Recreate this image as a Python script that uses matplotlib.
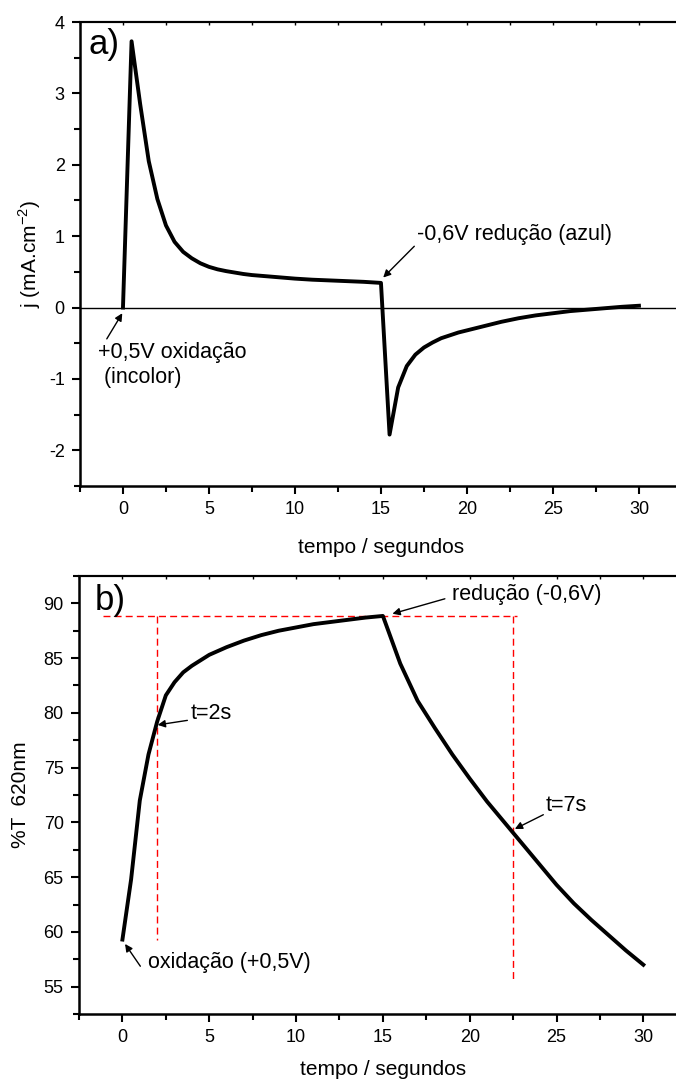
import numpy as np
import matplotlib.pyplot as plt
from matplotlib.ticker import MultipleLocator

plt.rcParams['font.family'] = ['Liberation Sans', 'DejaVu Sans']
plt.rcParams['axes.unicode_minus'] = False

# painel a) - densidade de corrente
t_j = [0, 0.5, 1.0, 1.5, 2.0, 2.5, 3.0, 3.5, 4.0, 4.5, 5.0, 5.5, 6.0, 6.5, 7.0,
       7.5, 8.0, 8.5, 9.0, 9.5, 10, 11, 12, 13, 14, 15,
       15.5, 16, 16.5, 17, 17.5, 18, 18.5, 19, 19.5, 20, 21, 22, 23, 24, 25,
       26, 27, 28, 29, 30]
j = [0, 3.73, 2.85, 2.05, 1.52, 1.15, 0.92, 0.78, 0.69, 0.62, 0.57, 0.535, 0.51, 0.49, 0.47,
     0.455, 0.445, 0.435, 0.425, 0.415, 0.405, 0.39, 0.38, 0.37, 0.36, 0.345,
     -1.78, -1.12, -0.82, -0.66, -0.56, -0.49, -0.43, -0.39, -0.35, -0.32, -0.26, -0.20, -0.15, -0.11, -0.08,
     -0.05, -0.03, -0.01, 0.01, 0.025]

# painel b) - transmitancia 620 nm
t_T = [0, 0.5, 1.0, 1.5, 2.0, 2.5, 3.0, 3.5, 4.0, 4.5, 5.0, 6.0, 7.0, 8.0, 9.0, 10, 11, 12, 13, 14, 15,
       16, 17, 18, 19, 20, 21, 22, 23, 24, 25, 26, 27, 28, 29, 30]
T = [59.3, 64.8, 72.0, 76.2, 79.2, 81.6, 82.8, 83.7, 84.3, 84.8, 85.3, 86.0, 86.6, 87.1, 87.5, 87.8, 88.1, 88.3, 88.5, 88.7, 88.85,
     84.5, 81.1, 78.6, 76.2, 74.0, 71.9, 70.0, 68.1, 66.2, 64.3, 62.6, 61.1, 59.7, 58.3, 57.0]

T_max = 88.85
t_cor = [2.0, 22.5]

fig = plt.figure(figsize=(6.76, 10.79), dpi=100)
ax1 = fig.add_axes([0.1183, 0.5496, 0.8905, 0.4300])
ax2 = fig.add_axes([0.1169, 0.0602, 0.8990, 0.4060])

for ax, lp in ((ax1, 14), (ax2, 10)):
    ax.spines['left'].set_linewidth(1.8)
    ax.spines['bottom'].set_linewidth(1.8)
    ax.spines['top'].set_linewidth(1.5)
    ax.xaxis.set_major_locator(MultipleLocator(5))
    ax.xaxis.set_minor_locator(MultipleLocator(2.5))
    ax.tick_params(which='major', direction='out', length=6, width=1.5, labelsize=13, pad=5)
    ax.tick_params(which='minor', direction='out', length=4, width=1.5)
    ax.set_xlim(-2.5, 32.5)
    ax.set_xlabel('tempo / segundos', fontsize=15, labelpad=lp)
    sec = ax.secondary_xaxis('top')
    sec.xaxis.set_major_locator(MultipleLocator(2.5))
    sec.tick_params(direction='in', length=2, width=1, labeltop=False)
    sec.spines['top'].set_linewidth(1.5)

# ---- a)
ax1.plot(t_j, j, color='black', lw=2.8)
ax1.axhline(0, color='black', lw=1)
ax1.set_ylim(-2.5, 4)
ax1.yaxis.set_major_locator(MultipleLocator(1))
ax1.yaxis.set_minor_locator(MultipleLocator(0.5))
ax1.set_ylabel('j (mA.cm$^{\\mathregular{-2}}$)', fontsize=15)
ax1.text(-2.0, 3.68, 'a)', fontsize=25, va='center')
ax1.annotate('-0,6V redução (azul)', xy=(15.13, 0.42), xytext=(17.1, 1.03),
             fontsize=15.5, va='center',
             arrowprops=dict(arrowstyle='-|>', color='black', lw=1, shrinkA=0, shrinkB=0,
                             mutation_scale=11, relpos=(0, 0.05)))
ax1.annotate('+0,5V oxidação\n (incolor)', xy=(-0.04, -0.08), xytext=(-1.47, -0.8),
             fontsize=15.5, va='center', linespacing=1.25,
             arrowprops=dict(arrowstyle='-|>', color='black', lw=1, shrinkA=0, shrinkB=0,
                             mutation_scale=11, relpos=(0.05, 1.0)))

# ---- b)
ax2.plot([-1.1, 22.7], [T_max, T_max], color='red', lw=1, ls=(0, (5, 3)))
ax2.plot([t_cor[0], t_cor[0]], [T_max, 59.3], color='red', lw=1, ls=(0, (5, 3)))
ax2.plot([t_cor[1], t_cor[1]], [T_max, 55.6], color='red', lw=1, ls=(0, (5, 3)))
ax2.plot(t_T, T, color='black', lw=2.8)
ax2.set_ylim(52.5, 92.5)
ax2.yaxis.set_major_locator(MultipleLocator(5))
ax2.yaxis.set_minor_locator(MultipleLocator(2.5))
ax2.set_ylabel('%T  620nm', fontsize=15, labelpad=10)
ax2.text(-1.6, 90.3, 'b)', fontsize=25, va='center')
ax2.annotate('redução (-0,6V)', xy=(15.55, 89.05), xytext=(19.0, 90.8),
             fontsize=15.5, va='center',
             arrowprops=dict(arrowstyle='-|>', color='black', lw=1, shrinkA=0, shrinkB=0,
                             mutation_scale=11, relpos=(-0.05, 0.3)))
ax2.annotate('t=2s', xy=(2.03, 78.9), xytext=(3.9, 79.9),
             fontsize=15.5, va='center',
             arrowprops=dict(arrowstyle='-|>', color='black', lw=1, shrinkA=0, shrinkB=0,
                             mutation_scale=11, relpos=(-0.05, 0.2)))
ax2.annotate('t=7s', xy=(22.6, 69.4), xytext=(24.4, 71.5),
             fontsize=15.5, va='center',
             arrowprops=dict(arrowstyle='-|>', color='black', lw=1, shrinkA=0, shrinkB=0,
                             mutation_scale=11, relpos=(-0.05, 0.1)))
ax2.annotate('oxidação (+0,5V)', xy=(0.15, 58.9), xytext=(1.5, 57.25),
             fontsize=15.5, va='center',
             arrowprops=dict(arrowstyle='-|>', color='black', lw=1, shrinkA=0, shrinkB=0,
                             mutation_scale=11, relpos=(-0.05, 0.3)))

fig.savefig('out.png', dpi=100)
